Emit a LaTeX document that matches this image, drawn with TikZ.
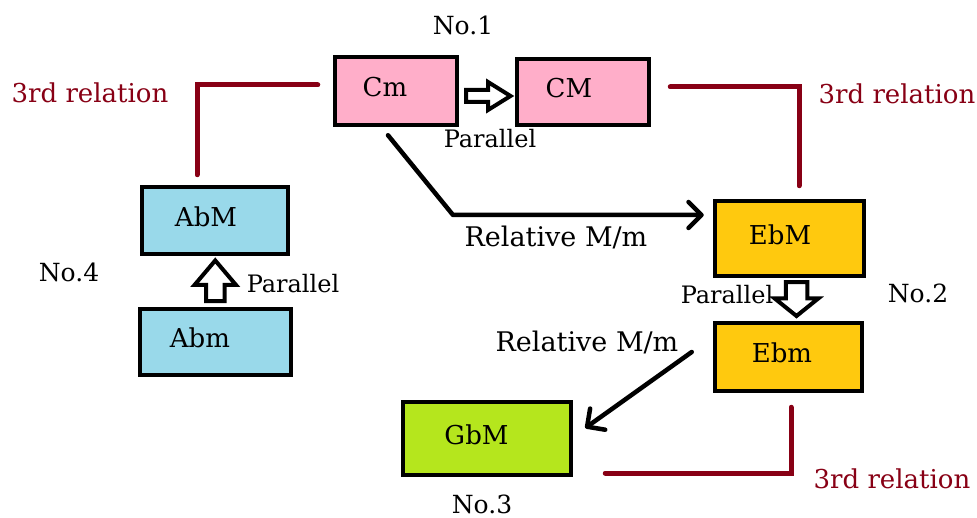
\documentclass[tikz,border=0pt]{standalone}
\usepackage{fontspec}
\setmainfont{DejaVu Serif}
\usetikzlibrary{arrows.meta,calc}
\definecolor{pinkc}{HTML}{FFAEC9}
\definecolor{bluec}{HTML}{99D9EA}
\definecolor{goldc}{HTML}{FFC90E}
\definecolor{limec}{HTML}{B5E61D}
\definecolor{relc}{HTML}{880015}
\tikzset{
  pics/blockarr/.style n args={5}{code={
    \draw[blockarrow] (-#1,-#4) -- (#2,-#4) -- (#2,-#3) -- (#5,0) -- (#2,#3) -- (#2,#4) -- (-#1,#4) -- cycle;
  }}
}
\begin{document}
\begin{tikzpicture}[x=1pt,y=-1pt,
  box/.style={draw=black, line width=4.5pt, fill=#1, inner sep=0pt, font=\fontsize{26}{32}\selectfont, text depth=8pt},
  lbl/.style={font=\fontsize{24}{30}\selectfont, inner sep=0pt, anchor=base},
  nolbl/.style={lbl, font=\fontsize{25}{30}\selectfont},
  rlbl/.style={lbl, font=\fontsize{26}{32}\selectfont},
  biglbl/.style={lbl, font=\fontsize{27}{32}\selectfont},
  rel/.style={draw=relc, line width=5pt, line cap=round, line join=miter},
  arr/.style={draw=black, line width=4.5pt, line cap=round, line join=round, -{Straight Barb[length=13pt,width=26pt,round]}},
  blockarrow/.style={draw=black, fill=white, line width=4pt, line join=miter},
]
\fill[white] (0,0) rectangle (977,518);
\useasboundingbox (0,0) rectangle (977,518);

% boxes
\node[box=pinkc, minimum width=122pt, minimum height=68pt] (Cm) at (396,91) {Cm\kern22pt};
\node[box=pinkc, minimum width=132pt, minimum height=66pt] (CM) at (583,92) {CM\kern28pt};
\node[box=goldc, minimum width=149pt, minimum height=75pt] (EbM) at (789.5,238.5) {EbM\kern19pt};
\node[box=goldc, minimum width=147pt, minimum height=68pt] (Ebm) at (788.5,357) {Ebm\kern13pt};
\node[box=bluec, minimum width=146pt, minimum height=67pt] (AbM) at (215,220.5) {AbM\kern18pt};
\node[box=bluec, minimum width=151pt, minimum height=66pt] (Abm) at (215.5,342) {Abm\kern31pt};
\node[box=limec, minimum width=168pt, minimum height=73pt] (GbM) at (487,438.5) {GbM\kern21pt};

% labels
\node[nolbl] (no1) at (463,35) {No.1};
\node[nolbl] (no2) at (918,303) {No.2};
\node[nolbl] (no3) at (482,513) {No.3};
\node[nolbl] (no4) at (69,282) {No.4};
\node[lbl] (par1) at (490,148) {Parallel};
\node[lbl] (par2) at (727,304) {Parallel};
\node[lbl] (par4) at (293,293) {Parallel};
\node[rlbl, text=relc] (rel1) at (90,103) {3rd relation};
\node[rlbl, text=relc] (rel2) at (897,104) {3rd relation};
\node[rlbl, text=relc] (rel3) at (892,488) {3rd relation};
\node[biglbl] (relm1) at (556,247) {Relative M/m};
\node[biglbl] (relm2) at (587,352) {Relative M/m};

% relative arrows
\coordinate (bend1) at (453,215);
\draw[arr, shorten >=9pt] ([xshift=-8pt,yshift=-8pt]Cm.south) -- (bend1) -- (bend1 -| EbM.west);
\draw[arr] ([xshift=-21pt,yshift=5pt]Ebm.west) -- ([xshift=12pt,yshift=10.5pt]GbM.east);

% 3rd relation lines
\draw[rel] ([xshift=-18pt,yshift=10pt]AbM.north) |- ([xshift=-15pt,yshift=6pt]Cm.west);
\draw[rel] ([xshift=19pt,yshift=5pt]CM.east) -| ([xshift=9.5pt,yshift=13pt]EbM.north);
\draw[rel] ([xshift=32pt,yshift=-34.5pt]GbM.east) -| ([xshift=2.5pt,yshift=-14pt]Ebm.south);

% parallel block arrows
\pic at ($(Cm.east)!0.5!(CM.west)+(2,4.5)$) {blockarr={23}{-1}{14}{6}{21.5}};
\pic[rotate=-90] at ($(EbM.south)!0.5!(Ebm.north)+(7.5,0)$) {blockarr={17.25}{-1}{21.75}{10.75}{16.5}};
\pic[rotate=90] at ($(AbM.south)!0.5!(Abm.north)+(0,-1)$) {blockarr={20.75}{-4.5}{20.75}{9.25}{20}};
\end{tikzpicture}
\end{document}
